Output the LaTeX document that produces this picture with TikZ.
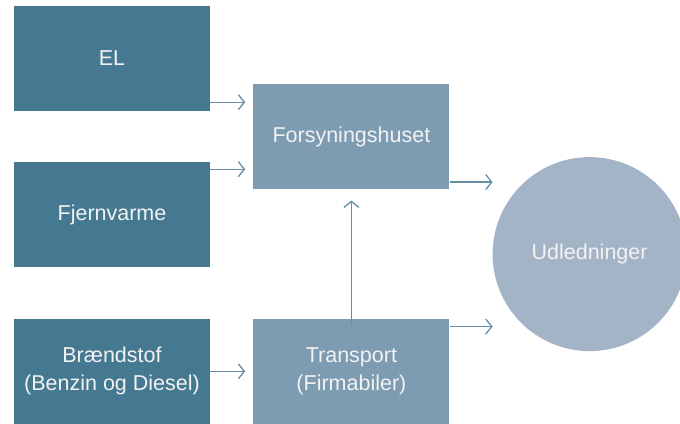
\documentclass[tikz,border=0pt]{standalone}
\usepackage{fontspec}
\setmainfont{Liberation Sans}
\usepackage{xcolor}
\usetikzlibrary{positioning, calc, arrows.meta}

\definecolor{darkbox}{HTML}{457991}
\definecolor{midbox}{HTML}{7D9BB1}
\definecolor{circfill}{HTML}{A4B4C7}
\definecolor{arrcol}{HTML}{628EA6}
\definecolor{txtcol}{HTML}{F2F2F2}

\tikzset{
  box/.style={rectangle, minimum width=196pt, minimum height=105pt, inner sep=0pt,
    text=txtcol, align=center, font=\fontsize{21.5}{28}\selectfont},
  srcbox/.style={box, fill=darkbox},
  midbox/.style={box, fill=midbox},
  outcirc/.style={circle, fill=circfill, minimum size=194pt, inner sep=0pt,
    text=txtcol, font=\fontsize{21.5}{28}\selectfont},
  arr/.style={draw=arrcol, line width=1.3pt, -{Straight Barb[length=6pt,width=15pt,line width=1.3pt]}}
}

\begin{document}
\begin{tikzpicture}[x=1pt, y=-1pt, node distance=51pt]
			\clip (0,0) rectangle (680,423);
			\useasboundingbox (0,0) rectangle (680,423);
			\node[srcbox] (el) at (112,58.5) {EL};
			\node[srcbox, below=of el] (fjern) {Fjernvarme};
			\node[srcbox, below=of fjern] (brand) {Brændstof\\(Benzin og Diesel)};
			\node[midbox, below right=-27pt and 43pt of el] (fors) {Forsyningshuset};
			\node[midbox, right=43pt of brand] (trans) {Transport\\(Firmabiler)};
			\node[outcirc] (udl) at ($(fors.east)!0.5!(trans.east)+(140pt,0)$) {Udledninger};
			
			\draw[arr, shorten >=8pt] ([yshift=9pt]el.south east) -- ([yshift=9pt]el.south east -| fors.west);
			\draw[arr, shorten >=8pt] ([yshift=-7pt]fjern.north east) -- ([yshift=-7pt]fjern.north east -| fors.west);
			\draw[arr, shorten >=8pt] (brand.east) -- (trans.west);
			\draw[arr] ([yshift=-7pt]trans.north) -- ([yshift=-11pt]fors.south);
			\draw[arr] ([yshift=7.5pt]fors.south east) -- ([yshift=7.5pt,xshift=43pt]fors.south east);
			\draw[arr] ([yshift=-8pt]trans.north east) -- ([yshift=-8pt,xshift=43pt]trans.north east);
			
		\end{tikzpicture}
\end{document}
